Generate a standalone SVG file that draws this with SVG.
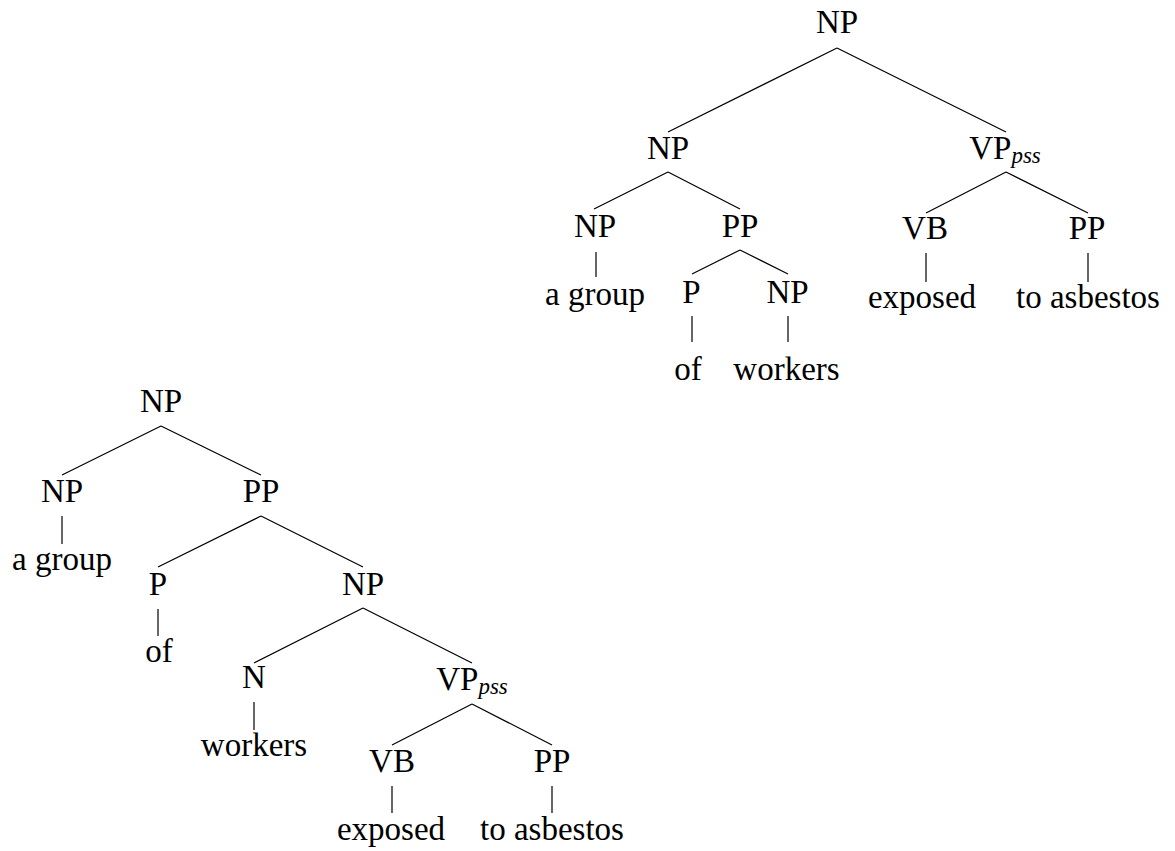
<svg xmlns="http://www.w3.org/2000/svg" width="1175" height="851" viewBox="0 0 1175 851">
  <style>
    .lbl { font-family: 'Liberation Serif', 'Times New Roman', serif; font-size: 33px; fill: #000; text-anchor: middle; }
    .sub { font-style: italic; font-size: 23px; }
    .edge { stroke: #000; stroke-width: 1.2; fill: none; stroke-linecap: butt; }
  </style>
  <rect width="1175" height="851" fill="#fff"/>

  <!-- Tree A: [NP [NP [NP a group] [PP [P of] [NP workers]]] [VPpss [VB exposed] [PP to asbestos]]] -->
  <g id="treeA-edges" class="connectors">
    <path class="edge" d="M837 48 L668 132 M837 48 L1006 132"/>
    <path class="edge" d="M668 172 L594 209 M668 172 L740 209"/>
    <path class="edge" d="M1006 172 L926 213 M1006 172 L1088 213"/>
    <path class="edge" d="M596 252 V277"/>
    <path class="edge" d="M740 250 L692 274 M740 250 L788 274"/>
    <path class="edge" d="M926 253 V282 M1088 253 V282"/>
    <path class="edge" d="M692 316 V342 M788 316 V342"/>
  </g>
  <g id="treeA-nodes">
    <g id="a-np-root"><text class="lbl" x="837" y="33">NP</text></g>
    <g id="a-np-1"><text class="lbl" x="668" y="159">NP</text></g>
    <g id="a-vp-pss"><text class="lbl" x="1005" y="159">VP<tspan class="sub" dy="4">pss</tspan></text></g>
    <g id="a-np-2"><text class="lbl" x="595" y="237">NP</text></g>
    <g id="a-pp-2"><text class="lbl" x="740" y="237">PP</text></g>
    <g id="a-vb"><text class="lbl" x="925" y="239">VB</text></g>
    <g id="a-pp-3"><text class="lbl" x="1087" y="239">PP</text></g>
    <g id="a-w-agroup"><text class="lbl" x="595" y="305">a group</text></g>
    <g id="a-p"><text class="lbl" x="691.5" y="303">P</text></g>
    <g id="a-np-3"><text class="lbl" x="787.5" y="303">NP</text></g>
    <g id="a-w-exposed"><text class="lbl" x="922" y="308">exposed</text></g>
    <g id="a-w-toasbestos"><text class="lbl" x="1088" y="308">to asbestos</text></g>
    <g id="a-w-of"><text class="lbl" x="688" y="380">of</text></g>
    <g id="a-w-workers"><text class="lbl" x="786.5" y="380">workers</text></g>
  </g>

  <!-- Tree B: [NP [NP a group] [PP [P of] [NP [N workers] [VPpss [VB exposed] [PP to asbestos]]]]] -->
  <g id="treeB-edges" class="connectors">
    <path class="edge" d="M161 426 L62 475 M161 426 L261 475"/>
    <path class="edge" d="M62 516 V544"/>
    <path class="edge" d="M261 516 L158 567 M261 516 L363 567"/>
    <path class="edge" d="M158 609 V636"/>
    <path class="edge" d="M363 608 L254 663 M363 608 L472 663"/>
    <path class="edge" d="M254 702 V730"/>
    <path class="edge" d="M472 704 L392 745 M472 704 L552 745"/>
    <path class="edge" d="M392 786 V813 M552 786 V813"/>
  </g>
  <g id="treeB-nodes">
    <g id="b-np-root"><text class="lbl" x="161" y="412">NP</text></g>
    <g id="b-np-1"><text class="lbl" x="62" y="502">NP</text></g>
    <g id="b-pp-1"><text class="lbl" x="261" y="502">PP</text></g>
    <g id="b-w-agroup"><text class="lbl" x="62" y="570">a group</text></g>
    <g id="b-p"><text class="lbl" x="158" y="595">P</text></g>
    <g id="b-np-2"><text class="lbl" x="363" y="595">NP</text></g>
    <g id="b-w-of"><text class="lbl" x="159" y="662">of</text></g>
    <g id="b-n"><text class="lbl" x="254" y="688">N</text></g>
    <g id="b-vp-pss"><text class="lbl" x="472" y="690">VP<tspan class="sub" dy="4">pss</tspan></text></g>
    <g id="b-w-workers"><text class="lbl" x="254" y="756">workers</text></g>
    <g id="b-vb"><text class="lbl" x="392" y="772">VB</text></g>
    <g id="b-pp-2"><text class="lbl" x="552" y="772">PP</text></g>
    <g id="b-w-exposed"><text class="lbl" x="391" y="840">exposed</text></g>
    <g id="b-w-toasbestos"><text class="lbl" x="552" y="840">to asbestos</text></g>
  </g>
</svg>
